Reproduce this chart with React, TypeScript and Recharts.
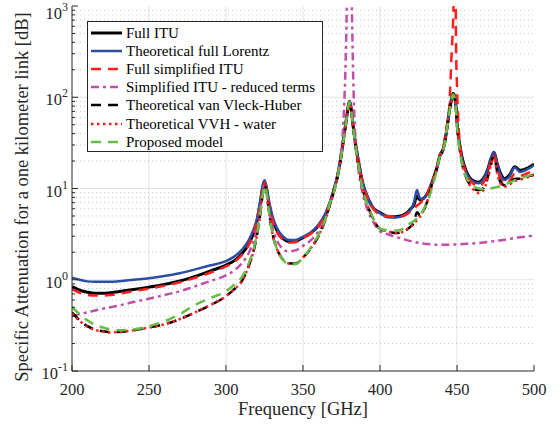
import React from 'react';
import { LineChart, Line, XAxis, YAxis, CartesianGrid, Legend } from 'recharts';

// Frequency grid [GHz]
const FREQ = [
  200, 205, 210, 215, 220, 225, 230, 240, 250, 260, 270, 280, 290, 300,
  305, 310, 315, 318, 320, 322, 324, 325, 326, 328, 330, 333, 336, 340, 345, 350, 355, 360, 365,
  368, 370, 372, 374, 376, 378, 379, 379.6, 380.2, 380.8, 381.4, 382.5, 384, 386, 389, 392, 396, 400,
  405, 410, 415, 418, 420, 422, 424, 425, 426, 428, 431, 434, 437, 439, 441, 443, 445, 446.5,
  447.5, 448, 448.7, 449.4, 450, 451, 453, 456, 460, 464, 467, 470, 472, 474, 476, 478, 481, 484, 487.5, 491, 495, 500,
];

const FULL_ITU = [
  0.84, 0.77, 0.73, 0.71, 0.71, 0.72, 0.74, 0.78, 0.83, 0.89, 0.97, 1.09, 1.25, 1.45,
  1.6, 1.9, 2.5, 3.3, 4.3, 6.5, 10.5, 11.7, 10.5, 6.7, 4.8, 3.5, 2.95, 2.65, 2.65, 2.9, 3.25, 3.9, 5.4,
  7.4, 9.6, 12.8, 19, 32, 55, 72, 84, 90, 84, 72, 50, 32, 20, 11, 8, 6, 5.45,
  4.95, 4.9, 5.1, 5.5, 6.0, 6.6, 8.2, 7.8, 7.5, 7.7, 9, 12, 17, 23.5, 27, 40, 70, 96,
  110, 108, 97, 77, 54, 37, 23, 15.5, 12.3, 11.7, 12.8, 16.3, 21, 25, 19, 15, 12.8, 14, 17.3, 15.8, 16.5, 18.5,
];

const FULL_LORENTZ = [
  1.05, 1.0, 0.96, 0.95, 0.95, 0.95, 0.96, 1.0, 1.04, 1.1, 1.18, 1.3, 1.44, 1.6,
  1.78, 2.1, 2.75, 3.6, 4.6, 7.0, 11.2, 12.3, 11, 7.2, 5.1, 3.7, 3.1, 2.75, 2.72, 2.95, 3.3, 4.0, 5.5,
  7.5, 9.7, 13, 19, 32, 55, 72, 84, 90, 84, 72, 50, 32, 20, 11, 8, 6, 5.35,
  4.85, 4.8, 5.0, 5.4, 5.9, 7.0, 9.6, 8.6, 7.8, 7.7, 8.9, 11.8, 16.5, 23, 26, 40, 70, 95,
  108, 106, 95, 75, 52, 36, 22, 15, 12, 11.4, 12.5, 16, 21, 25, 19, 14.5, 12.4, 13.5, 17, 15.2, 16, 18,
];

const FULL_SIMPLIFIED = [
  0.79, 0.72, 0.68, 0.67, 0.67, 0.68, 0.7, 0.75, 0.8, 0.86, 0.94, 1.05, 1.2, 1.4,
  1.55, 1.85, 2.45, 3.25, 4.2, 6.4, 10.4, 11.6, 10.4, 6.5, 4.6, 3.35, 2.85, 2.55, 2.58, 2.85, 3.2, 3.85, 5.3,
  7.3, 9.5, 12.8, 19, 32, 55, 72, 84, 90, 84, 72, 50, 32, 20, 11, 7.8, 5.9, 5.2,
  5.0, 4.9, 5.0, 5.3, 5.6, 6.0, 6.5, 6.7, 6.9, 7.5, 9, 12, 17, 23, 28, 45, 80, 300,
  700, 1500, 5000, 330, 130, 50, 23, 14.5, 11.5, 10.6, 11.5, 15, 19.5, 23, 17, 13, 11.2, 12, 14.5, 13.8, 14.5, 16,
];

const SIMPLIFIED_REDUCED = [
  0.40, 0.42, 0.44, 0.46, 0.48, 0.50, 0.52, 0.57, 0.62, 0.68, 0.75, 0.85, 0.97, 1.12,
  1.25, 1.5, 2.0, 2.7, 3.5, 5.5, 9.5, 11.4, 10, 5.8, 3.8, 2.7, 2.25, 2.05, 2.1, 2.35, 2.7, 3.4, 5.0,
  7.0, 9.0, 13, 20, 45, 400, 3000, 6000, 8000, 6000, 2000, 200, 35, 16, 8.5, 5.8, 4.2, 3.4,
  3.15, 2.95, 2.8, 2.7, 2.65, 2.6, 2.56, 2.55, 2.53, 2.5, 2.46, 2.43, 2.42, 2.42, 2.42, 2.42, 2.42, 2.43,
  2.43, 2.43, 2.44, 2.44, 2.44, 2.45, 2.46, 2.48, 2.5, 2.53, 2.56, 2.6, 2.62, 2.65, 2.68, 2.7, 2.75, 2.8, 2.86, 2.92, 2.98, 3.05,
];

const VAN_VLECK_HUBER = [
  0.44, 0.36, 0.31, 0.285, 0.272, 0.266, 0.268, 0.28, 0.3, 0.325, 0.37, 0.44, 0.53, 0.66,
  0.78, 0.95, 1.45, 2.1, 3.0, 4.9, 9.0, 11, 9.8, 5.4, 3.3, 2.2, 1.75, 1.52, 1.5, 1.75, 2.2, 3.0, 4.8,
  7.2, 9.2, 12.5, 18.5, 31, 54, 71, 83, 88, 82, 70, 48, 30, 18, 9.5, 6.5, 4.5, 3.6,
  3.4, 3.25, 3.35, 3.6, 3.85, 4.2, 5.5, 5.3, 5.0, 5.6, 7.5, 11.5, 17, 23, 26, 40, 68, 95,
  110, 107, 95, 74, 50, 34, 20, 13.2, 10.3, 9.6, 10, 13.3, 18, 23, 15.5, 12, 10.8, 11.5, 12.8, 12.8, 13.4, 14.2,
];

const VVH_WATER = [
  0.43, 0.355, 0.305, 0.282, 0.27, 0.265, 0.267, 0.28, 0.3, 0.325, 0.37, 0.44, 0.53, 0.66,
  0.78, 0.95, 1.45, 2.1, 3.0, 4.9, 9.0, 11, 9.8, 5.4, 3.3, 2.2, 1.75, 1.52, 1.5, 1.75, 2.2, 3.0, 4.8,
  7.2, 9.2, 12.5, 18.5, 31, 54, 71, 83, 88, 82, 70, 48, 30, 18, 9.5, 6.5, 4.5, 3.6,
  3.4, 3.25, 3.35, 3.6, 3.85, 4.1, 4.5, 4.7, 4.9, 5.6, 7.5, 11.5, 17, 23, 26, 40, 68, 95,
  110, 107, 95, 74, 50, 34, 20, 13, 10, 8.9, 9.5, 13, 18, 23, 15, 11.5, 10.5, 11, 12, 12.5, 13.2, 14,
];

const PROPOSED = [
  0.50, 0.42, 0.36, 0.32, 0.3, 0.285, 0.28, 0.285, 0.31, 0.35, 0.42, 0.53, 0.63, 0.75,
  0.87, 1.05, 1.55, 2.2, 3.1, 5.0, 9.0, 10.8, 9.6, 5.4, 3.3, 2.2, 1.75, 1.5, 1.48, 1.75, 2.25, 3.1, 4.9,
  7.4, 9.0, 12.5, 18.5, 31, 54, 71, 83, 88, 82, 70, 48, 30, 18, 9.5, 6.6, 4.6, 3.6,
  3.5, 3.45, 3.6, 4.0, 4.2, 4.4, 4.7, 4.85, 5.0, 5.8, 7.3, 10.5, 16, 23, 26, 40, 68, 95,
  108, 105, 93, 72, 49, 33, 20, 13.5, 10.8, 10, 9.8, 9.9, 10.0, 10.2, 10.4, 10.6, 11, 11.6, 12.3, 12.9, 13.6, 14.4,
];

const X_TICKS = [200, 250, 300, 350, 400, 450, 500];
const X_GRID = [250, 300, 350, 400, 450];
const Y_MAJOR = [0.1, 1, 10, 100, 1000];
const Y_EXP = ['-1', '0', '1', '2', '3'];
const Y_GRID_MAJOR = [1, 10, 100];
const Y_MINOR = [
  0.2, 0.3, 0.4, 0.5, 0.6, 0.7, 0.8, 0.9,
  2, 3, 4, 5, 6, 7, 8, 9,
  20, 30, 40, 50, 60, 70, 80, 90,
  200, 300, 400, 500, 600, 700, 800, 900,
];
const Y_TICKS = [...Y_MAJOR, ...Y_MINOR].sort((a, b) => a - b);

const SERIES = [
  { key: 'fullItu', name: 'Full ITU', values: FULL_ITU, color: '#000000', width: 3, dash: undefined as string | undefined },
  { key: 'lorentz', name: 'Theoretical full Lorentz', values: FULL_LORENTZ, color: '#2C4DA2', width: 2.5, dash: undefined },
  { key: 'simplified', name: 'Full simplified ITU', values: FULL_SIMPLIFIED, color: '#FF1E1E', width: 2.5, dash: '10 7' },
  { key: 'reduced', name: 'Simplified ITU - reduced terms', values: SIMPLIFIED_REDUCED, color: '#BF4FA8', width: 2.5, dash: '8 4 3 4' },
  { key: 'vvh', name: 'Theoretical van Vleck-Huber', values: VAN_VLECK_HUBER, color: '#000000', width: 2.5, dash: '10 7' },
  { key: 'vvhWater', name: 'Theoretical VVH - water', values: VVH_WATER, color: '#FF1E1E', width: 2.5, dash: '2.5 3.5' },
  { key: 'proposed', name: 'Proposed model', values: PROPOSED, color: '#66BD47', width: 2.5, dash: '10 7' },
];

const DATA = FREQ.map((f, i) => {
  const row: Record<string, number> = { f };
  SERIES.forEach((s) => {
    row[s.key] = s.values[i];
  });
  return row;
});

const FONT = '"Liberation Serif", "Times New Roman", serif';
const AXIS_COLOR = '#262626';

const LeftTick = (props: any) => {
  const { x, y, payload } = props;
  const idx = Y_MAJOR.indexOf(payload.value);
  const major = idx >= 0;
  const base = Math.max(y + 8, 19);
  return (
    <g>
      <line x1={x} y1={y} x2={x + (major ? 6 : 3)} y2={y} stroke={AXIS_COLOR} strokeWidth={1} />
      {major && (
        <text x={x - 4} y={base} textAnchor="end" fontSize={16.5} fill={AXIS_COLOR} fontFamily={FONT}>
          10
          <tspan dy={-8} fontSize={12}>
            {Y_EXP[idx]}
          </tspan>
        </text>
      )}
    </g>
  );
};

const RightTick = (props: any) => {
  const { x, y, payload } = props;
  const major = Y_MAJOR.indexOf(payload.value) >= 0;
  return <line x1={x} y1={y} x2={x - (major ? 6 : 3)} y2={y} stroke={AXIS_COLOR} strokeWidth={1} />;
};

const BottomTick = (props: any) => {
  const { x, y, payload } = props;
  return (
    <g>
      <line x1={x} y1={y} x2={x} y2={y - 6} stroke={AXIS_COLOR} strokeWidth={1} />
      <text x={x} y={y + 24} textAnchor="middle" fontSize={16.5} fill={AXIS_COLOR} fontFamily={FONT}>
        {payload.value}
      </text>
    </g>
  );
};

const TopTick = (props: any) => {
  const { x, y } = props;
  return <line x1={x} y1={y} x2={x} y2={y + 6} stroke={AXIS_COLOR} strokeWidth={1} />;
};

const XLabel = () => (
  <text x={303} y={415} textAnchor="middle" fontSize={18.5} fill={AXIS_COLOR} fontFamily={FONT}>
    Frequency [GHz]
  </text>
);

const YLabel = () => (
  <text
    x={28}
    y={197}
    transform="rotate(-90, 28, 197)"
    textAnchor="middle"
    fontSize={18.5}
    fill={AXIS_COLOR}
    fontFamily={FONT}
  >
    Specific Attenuation for a one kilometer link [dB]
  </text>
);

const LegendBox = () => (
  <div
    style={{
      width: 236,
      height: 131,
      boxSizing: 'border-box',
      border: `1px solid ${AXIS_COLOR}`,
      background: '#ffffff',
      paddingTop: 2,
      fontFamily: FONT,
      fontSize: 15,
      color: '#000',
    }}
  >
    {SERIES.map((s) => (
      <div key={s.key} style={{ display: 'flex', alignItems: 'center', height: 18.1 }}>
        <svg width={36} height={18} style={{ display: 'block', flex: 'none' }}>
          <line
            x1={3}
            y1={9}
            x2={34}
            y2={9}
            stroke={s.color}
            strokeWidth={s.width}
            strokeDasharray={s.dash}
          />
        </svg>
        <span style={{ marginLeft: 2, whiteSpace: 'nowrap', lineHeight: '18px' }}>{s.name}</span>
      </div>
    ))}
  </div>
);

export default function App() {
  return (
    <div style={{ position: 'absolute', left: 0, top: 0, width: 559, height: 427, background: '#fff' }}>
      <LineChart
        width={559}
        height={427}
        data={DATA}
        margin={{ top: 6, right: 25, bottom: 0, left: 0 }}
        style={{ fontFamily: FONT }}
      >
        <CartesianGrid
          stroke="#e2e2e2"
          strokeWidth={1}
          horizontalValues={Y_GRID_MAJOR}
          verticalValues={X_GRID}
        />
        <CartesianGrid
          stroke="#c8c8c8"
          strokeWidth={1}
          strokeDasharray="1 3"
          vertical={false}
          horizontalValues={Y_MINOR}
        />
        <XAxis
          dataKey="f"
          type="number"
          domain={[200, 500]}
          allowDataOverflow
          ticks={X_TICKS}
          interval={0}
          height={56}
          tickSize={0}
          tickMargin={0}
          tickLine={false}
          tick={<BottomTick />}
          axisLine={{ stroke: AXIS_COLOR, strokeWidth: 1 }}
          label={<XLabel />}
        />
        <XAxis
          xAxisId="top"
          orientation="top"
          dataKey="f"
          type="number"
          domain={[200, 500]}
          allowDataOverflow
          ticks={X_TICKS}
          interval={0}
          height={0}
          tickSize={0}
          tickMargin={0}
          tickLine={false}
          tick={<TopTick />}
          axisLine={{ stroke: AXIS_COLOR, strokeWidth: 1 }}
        />
        <YAxis
          scale="log"
          type="number"
          domain={[0.1, 1000]}
          allowDataOverflow
          ticks={Y_TICKS}
          interval={0}
          width={72}
          tickSize={0}
          tickMargin={0}
          tickLine={false}
          tick={<LeftTick />}
          axisLine={{ stroke: AXIS_COLOR, strokeWidth: 1 }}
          label={<YLabel />}
        />
        <YAxis
          yAxisId="right"
          orientation="right"
          scale="log"
          type="number"
          domain={[0.1, 1000]}
          allowDataOverflow
          ticks={Y_TICKS}
          interval={0}
          width={0}
          tickSize={0}
          tickMargin={0}
          tickLine={false}
          tick={<RightTick />}
          axisLine={{ stroke: AXIS_COLOR, strokeWidth: 1 }}
        />
        <Legend
          layout="vertical"
          align="center"
          verticalAlign="middle"
          content={<LegendBox />}
          wrapperStyle={{ left: 87, top: 21, width: 236, height: 131 }}
        />
        {SERIES.map((s) => (
          <Line
            key={s.key}
            dataKey={s.key}
            name={s.name}
            type="monotone"
            stroke={s.color}
            strokeWidth={s.width}
            strokeDasharray={s.dash}
            dot={false}
            activeDot={false}
            isAnimationActive={false}
          />
        ))}
      </LineChart>
    </div>
  );
}
